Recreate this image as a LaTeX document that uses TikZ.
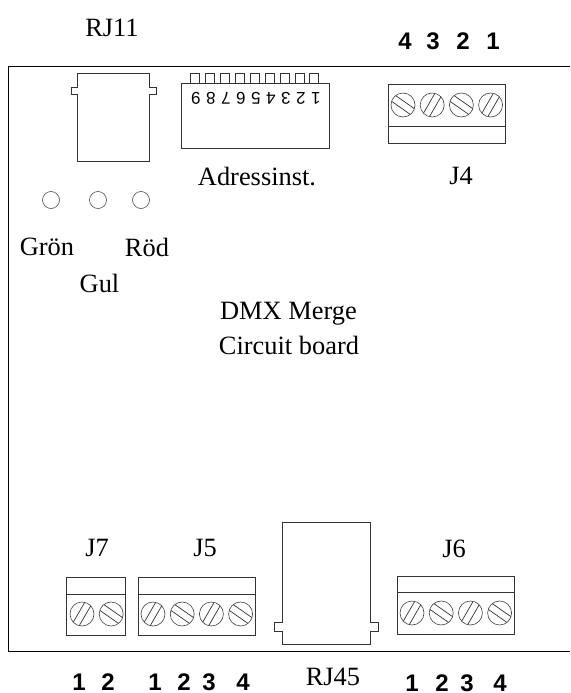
\documentclass[tikz,border=0pt]{standalone}
\usepackage{fontspec}
\setmainfont{Liberation Serif}
\setsansfont{Liberation Sans}
\usepackage{tikz}

\begin{document}
\begin{tikzpicture}[x=1pt,y=-1pt,node distance=29.2pt,
    part/.style={draw=black!80,line width=0.8pt},
    box/.style={rectangle,draw=black!80,line width=0.8pt,inner sep=0pt,anchor=north west},
    lamp/.style={circle,draw=black!70,line width=0.6pt,inner sep=0pt,minimum size=17pt},
    screw/.style={circle,draw=black!75,line width=0.6pt,inner sep=0pt,minimum size=24pt},
    screwa/.style={screw,path picture={
      \draw[black!80,line width=0.7pt] (path picture bounding box.center)
      +(-3.5,13) -- +(9.5,-9.5) +(-9.5,9.5) -- +(3.5,-13);}},
    screwb/.style={screw,path picture={
      \draw[black!80,line width=0.7pt] (path picture bounding box.center)
      +(-12.6,-4.5) -- +(8.6,10.3) +(-8.6,-10.3) -- +(12.6,4.5);}},
    txt/.style={font=\fontsize{26.4}{30}\selectfont,inner sep=0pt},
    pin/.style={font=\fontsize{24}{28}\sffamily\bfseries\selectfont,inner sep=0pt},
    dig/.style={font=\fontsize{17}{20}\sffamily\selectfont,inner sep=0pt,rotate=180},
    dip/.style={rectangle,draw=black!80,line width=0.7pt,inner sep=0pt,anchor=north west,
      minimum width=9pt,minimum height=10pt}]
  \useasboundingbox (0,0) rectangle (570,693);

  % board
  \draw[line width=0.9pt] (570,66) -- (8,66) -- (8,651) -- (570,651);

  % RJ11
  \draw[part] (77,73) -- (149,73) -- (149,87) -- (156,87) -- (156,94) -- (149,94)
    -- (149,161) -- (77,161) -- (77,94) -- (71,94) -- (71,87) -- (77,87) -- cycle;
  \node[txt] (rj11) at (112,28) {RJ11};

  % lamps
  \node[lamp] (led1) at (51,200) {};
  \node[lamp] (led2) at (98,200) {};
  \node[lamp] (led3) at (141,200) {};
  \node[txt] (gron) at (47,247) {Grön};
  \node[txt] (gul) at (99.5,283) {Gul};
  \node[txt] (rod) at (147,247) {Röd};

  % address switch
  \node[dip] (s9) at (190,73) {};
  \node[dip] (s8) at (205,73) {};
  \node[dip] (s7) at (220,73) {};
  \node[dip] (s6) at (235,73) {};
  \node[dip] (s5) at (250,73) {};
  \node[dip] (s4) at (265,73) {};
  \node[dip] (s3) at (280,73) {};
  \node[dip] (s2) at (295,73) {};
  \node[dip] (s1) at (309,73) {};
  \node[box,fill=white,minimum width=148pt,minimum height=65pt] (dipbox) at (181,83) {};
  \node[dig] (d9) at (196,98) {9};
  \node[dig] (d8) at (211,98) {8};
  \node[dig] (d7) at (226,98) {7};
  \node[dig] (d6) at (241,98) {6};
  \node[dig] (d5) at (256,98) {5};
  \node[dig] (d4) at (271,98) {4};
  \node[dig] (d3) at (286,98) {3};
  \node[dig] (d2) at (301,98) {2};
  \node[dig] (d1) at (316,98) {1};
  \node[txt] (adr) at (257,177) {Adressinst.};

  % J4
  \node[box,minimum width=117pt,minimum height=59pt] (j4box) at (388,84) {};
  \draw[part] (388,126) -- (505,126);
  \node[screwb] (j4a) at (403,105) {};
  \node[screwa] (j4b) [right of=j4a] {};
  \node[screwb] (j4c) [right of=j4b] {};
  \node[screwa] (j4d) [right of=j4c] {};
  \node[txt] (j4) at (461,176) {J4};
  \node[pin] (p43) at (405,41) {4};
  \node[pin] (p42) at (433,41) {3};
  \node[pin] (p41) at (463,41) {2};
  \node[pin] (p40) at (493,41) {1};

  \node[txt] (title) at (288.5,314) {DMX Merge};
  \node[txt] (sub) at (289,345) {Circuit board};

  % J7
  \node[box,minimum width=59pt,minimum height=58pt] (j7box) at (66,577) {};
  \draw[part] (66,594) -- (125,594);
  \node[screwa] (j7a) at (82,614) {};
  \node[screwb] (j7b) [right of=j7a] {};
  \node[txt] (j7) at (97,548) {J7};
  \node[pin] (p71) at (79,682) {1};
  \node[pin] (p72) at (108,682) {2};

  % J5
  \node[box,minimum width=117pt,minimum height=58pt] (j5box) at (138,577) {};
  \draw[part] (138,594) -- (255,594);
  \node[screwa] (j5a) at (153,614) {};
  \node[screwb] (j5b) [right of=j5a] {};
  \node[screwa] (j5c) [right of=j5b] {};
  \node[screwb] (j5d) [right of=j5c] {};
  \node[txt] (j5) at (205,548) {J5};
  \node[pin] (p51) at (155,682) {1};
  \node[pin] (p52) at (184,682) {2};
  \node[pin] (p53) at (209,682) {3};
  \node[pin] (p54) at (243,682) {4};

  % RJ45
  \draw[part] (282,522) -- (370,522) -- (370,622) -- (378,622) -- (378,631) -- (370,631)
    -- (370,644) -- (282,644) -- (282,631) -- (274,631) -- (274,622) -- (282,622) -- cycle;
  \node[txt] (rj45) at (333,677) {RJ45};

  % J6
  \node[box,minimum width=117pt,minimum height=58pt] (j6box) at (397,576) {};
  \draw[part] (397,592) -- (514,592);
  \node[screwa] (j6a) at (412,613) {};
  \node[screwb] (j6b) [right of=j6a] {};
  \node[screwa] (j6c) [right of=j6b] {};
  \node[screwb] (j6d) [right of=j6c] {};
  \node[txt] (j6) at (454,549) {J6};
  \node[pin] (p61) at (412,683) {1};
  \node[pin] (p62) at (442,683) {2};
  \node[pin] (p63) at (467,683) {3};
  \node[pin] (p64) at (500,683) {4};
\end{tikzpicture}
\end{document}
